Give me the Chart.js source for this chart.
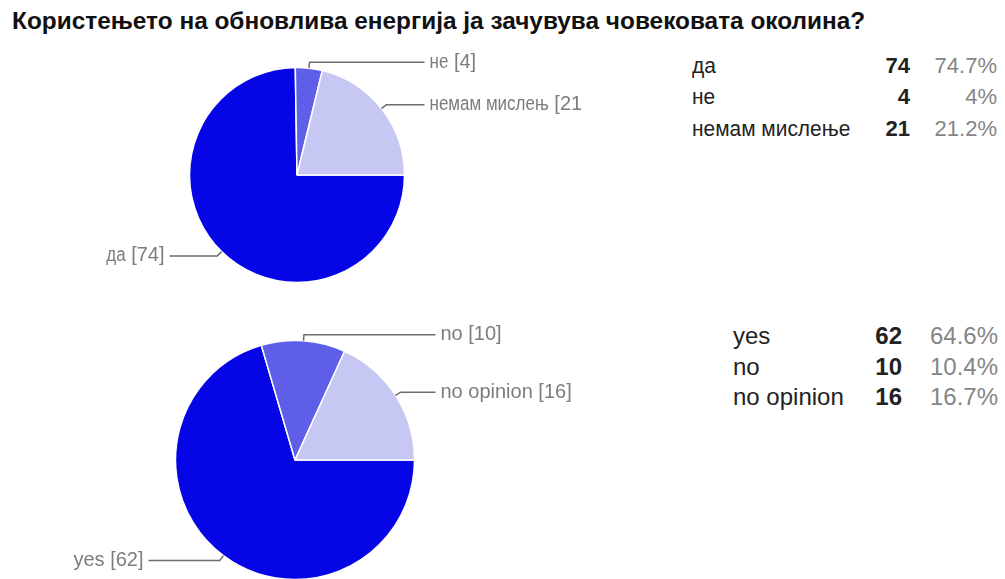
<!DOCTYPE html>
<html>
<head>
<meta charset="utf-8">
<script src="https://cdn.jsdelivr.net/npm/chart.js@4.4.1/dist/chart.umd.min.js"></script>
<style>
  html, body { margin: 0; padding: 0; background: #fff; width: 1005px; height: 579px; overflow: hidden;
               font-family: "Liberation Sans", Arial, sans-serif; }
  #title { position: absolute; left: 12px; top: 9px; font-weight: bold; font-size: 24.4px; line-height: 24px;
           color: #111; white-space: nowrap; }
  .box { position: absolute; }
  .cell { position: absolute; white-space: nowrap; }
</style>
</head>
<body>
<div id="title">Користењето на обновлива енергија ја зачувува човековата околина?</div>
<div class="box" style="left:0;top:0;width:582px;height:290px"><canvas id="pieMk"></canvas></div>
<div class="box" style="left:0;top:290px;width:640px;height:289px"><canvas id="pieEn"></canvas></div>
<div id="tables"></div>
<script>
// Survey answers (Macedonian)
const categoriesMk = ['да', 'не', 'немам мислење'];
const calloutNamesMk = ['да', 'не', 'немам мислењ'];
const countsMk = [74, 4, 21];
const percentMk = ['74.7%', '4%', '21.2%'];

// Survey answers (English)
const categoriesEn = ['yes', 'no', 'no opinion'];
const calloutNamesEn = ['yes', 'no', 'no opinion'];
const countsEn = [62, 10, 16];
const percentEn = ['64.6%', '10.4%', '16.7%'];

const sliceColors = ['#0505e6', '#5e5ee9', '#c7c7f3'];

// Leader lines with "name [count]" labels beside each slice
const calloutPlugin = {
  id: 'callouts',
  afterDatasetsDraw(chart, args, opts) {
    const ctx = chart.ctx;
    const meta = chart.getDatasetMeta(0);
    const values = chart.data.datasets[0].data;
    ctx.save();
    ctx.font = '20px "Liberation Sans", Arial, sans-serif';
    ctx.strokeStyle = '#6e6e6e';
    ctx.lineWidth = 1.5;
    ctx.fillStyle = '#7c7c7c';
    ctx.textBaseline = 'middle';
    ctx.textAlign = 'left';
    meta.data.forEach((arc, i) => {
      const p = arc.getProps(['x', 'y', 'startAngle', 'endAngle', 'outerRadius'], true);
      const mid = (p.startAngle + p.endAngle) / 2;
      const c = Math.cos(mid), s = Math.sin(mid);
      const ax = p.x + c * p.outerRadius, ay = p.y + s * p.outerRadius;
      const ex = ax + c * 6, ey = ay + s * 6;
      const right = c >= 0;
      const lx = right ? p.x + p.outerRadius + opts.reachRight : p.x - p.outerRadius - opts.reachLeft;
      ctx.beginPath();
      ctx.moveTo(ax, ay);
      ctx.lineTo(ex, ey);
      ctx.lineTo(lx, ey);
      ctx.stroke();

      // name drawn slightly condensed, then the bracketed count
      const name = opts.names[i];
      const tail = ' [' + values[i] + ']';
      const nameW = ctx.measureText(name).width * opts.nameScale;
      const total = nameW + ctx.measureText(tail).width;
      const tx = right ? lx + 5 : lx - 5 - total;
      ctx.save();
      ctx.translate(tx, ey);
      ctx.scale(opts.nameScale, 1);
      ctx.fillText(name, 0, 0);
      ctx.restore();
      ctx.fillText(tail, tx + nameW, ey);
    });
    ctx.restore();
  }
};

function makePie(id, labels, values, callouts, radius, padding) {
  return new Chart(document.getElementById(id), {
    type: 'pie',
    data: {
      labels: labels,
      datasets: [{
        data: values,
        backgroundColor: sliceColors,
        borderColor: '#ffffff',
        borderWidth: 1.5,
        radius: radius
      }]
    },
    options: {
      responsive: true,
      maintainAspectRatio: false,
      animation: false,
      rotation: 90,
      layout: { padding: padding },
      plugins: {
        legend: { display: false },
        tooltip: { enabled: false },
        callouts: callouts
      }
    },
    plugins: [calloutPlugin]
  });
}

makePie('pieMk', categoriesMk, countsMk,
  { names: calloutNamesMk, nameScale: 0.85, reachLeft: 20, reachRight: 20 },
  107.5, { left: 12, right: 0, top: 60, bottom: 0 });
makePie('pieEn', categoriesEn, countsEn,
  { names: calloutNamesEn, nameScale: 1, reachLeft: 27, reachRight: 21 },
  119.5, { left: 0, right: 50, top: 51, bottom: 0 });

// Summary tables to the right of each pie
function makeTable(cats, counts, pcts, cfg) {
  const host = document.getElementById('tables');
  cats.forEach((cat, i) => {
    const top = cfg.rows[i] - 0.54 * cfg.size;
    const base = 'top:' + top + 'px;font-size:' + cfg.size + 'px;line-height:' + cfg.size + 'px;';
    const a = document.createElement('div');
    a.className = 'cell';
    a.style.cssText = base + 'left:' + cfg.labelX + 'px;color:#222;transform-origin:0 50%;transform:scaleX(' + cfg.labelScale + ');';
    a.textContent = cat;
    const b = document.createElement('div');
    b.className = 'cell';
    b.style.cssText = base + 'right:' + (1005 - cfg.countRight) + 'px;color:#222;font-weight:bold;';
    b.textContent = counts[i];
    const c = document.createElement('div');
    c.className = 'cell';
    c.style.cssText = base + 'right:' + (1005 - cfg.pctRight) + 'px;color:#858585;';
    c.textContent = pcts[i];
    host.appendChild(a); host.appendChild(b); host.appendChild(c);
  });
}

makeTable(categoriesMk, countsMk, percentMk,
  { size: 22, labelScale: 0.95, labelX: 692, countRight: 910, pctRight: 997, rows: [67, 98, 130] });
makeTable(categoriesEn, countsEn, percentEn,
  { size: 24, labelScale: 1, labelX: 733, countRight: 902, pctRight: 998, rows: [337, 368, 398] });
</script>
</body>
</html>
